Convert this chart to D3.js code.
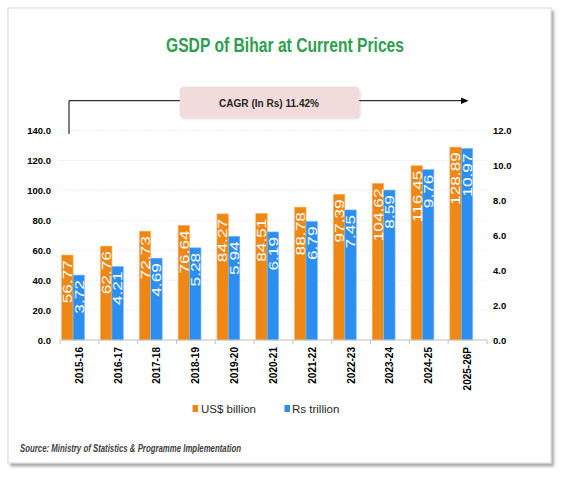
<!DOCTYPE html>
<html>
<head>
<meta charset="utf-8">
<script src="https://cdn.jsdelivr.net/npm/d3@7"></script>
<style>
  html, body { margin: 0; padding: 0; background: #fff; }
  svg { display: block; }
  text { font-family: "Liberation Sans", Arial, sans-serif; }
</style>
</head>
<body>
<svg id="chart" width="563" height="478"></svg>
<script>
// ---- data ----
const categories = ["2015-16","2016-17","2017-18","2018-19","2019-20","2020-21","2021-22","2022-23","2023-24","2024-25","2025-26P"];
const usdBillion = [56.77, 62.76, 72.73, 76.64, 84.27, 84.51, 88.78, 97.39, 104.62, 116.45, 128.89];
const rsTrillion = [3.72, 4.21, 4.69, 5.28, 5.94, 6.19, 6.79, 7.45, 8.59, 9.76, 10.97];
const leftTicks = [0, 20, 40, 60, 80, 100, 120, 140];
const rightTicks = [0, 2, 4, 6, 8, 10, 12];
const seriesNames = ["US$ billion", "Rs trillion"];
const titleText = "GSDP of Bihar at Current Prices";
const cagrText = "CAGR (In Rs) 11.42%";
const sourceText = "Source: Ministry of Statistics & Programme Implementation";

const ORANGE = "#ee8714", BLUE = "#2c8ff0";

const svg = d3.select("#chart");
const defs = svg.append("defs");
const sh = defs.append("filter").attr("id","cardShadow").attr("x","-5%").attr("y","-5%").attr("width","112%").attr("height","112%");
sh.append("feDropShadow").attr("dx",2.5).attr("dy",3).attr("stdDeviation",1.8).attr("flood-color","#000").attr("flood-opacity",0.35);
const sh2 = defs.append("filter").attr("id","boxShadow").attr("x","-10%").attr("y","-20%").attr("width","125%").attr("height","150%");
sh2.append("feDropShadow").attr("dx",1).attr("dy",1.5).attr("stdDeviation",1.2).attr("flood-color","#000").attr("flood-opacity",0.18);

// card
svg.append("rect").attr("x",8).attr("y",8).attr("width",543).attr("height",455)
  .attr("fill","#fff").attr("stroke","#d0d0d0").attr("stroke-width",0.8).attr("filter","url(#cardShadow)");

// title
svg.append("text").attr("x",285).attr("y",52).attr("text-anchor","middle")
  .attr("font-size",19.5).attr("font-weight","bold").attr("fill","#2f9e4f")
  .attr("textLength",238).attr("lengthAdjust","spacingAndGlyphs").text(titleText);

// scales
const x0 = d3.scaleBand().domain(categories).range([60, 487]).paddingInner(0).paddingOuter(0);
const x1 = d3.scaleBand().domain(["usd","rs","gap"]).range([0, x0.bandwidth()]).paddingInner(0).paddingOuter(0.2).align(0.37);
const yL = d3.scaleLinear().domain([0, 140]).range([340, 130.5]);
const yR = d3.scaleLinear().domain([0, 12]).range([340, 130.5]);

// gridlines
svg.append("g").selectAll("line").data(leftTicks.filter(d => d > 0)).join("line")
  .attr("x1",60).attr("x2",487).attr("y1",d => yL(d)).attr("y2",d => yL(d))
  .attr("stroke","#d9d9d9").attr("stroke-width",0.6).attr("stroke-dasharray","1.5,1.5");

// left axis
const gL = svg.append("g").attr("transform","translate(60,0)")
  .call(d3.axisLeft(yL).tickValues(leftTicks).tickFormat(d3.format(".1f")).tickSize(0).tickPadding(9));
gL.select(".domain").remove();
gL.selectAll("text").attr("font-size",9.5).attr("font-weight","bold").attr("fill","#000")
  .attr("font-family","Liberation Sans, Arial, sans-serif");

// right axis
const gR = svg.append("g").attr("transform","translate(487,0)")
  .call(d3.axisRight(yR).tickValues(rightTicks).tickFormat(d3.format(".1f")).tickSize(0).tickPadding(6));
gR.select(".domain").remove();
gR.selectAll("text").attr("font-size",9.5).attr("font-weight","bold").attr("fill","#000")
  .attr("font-family","Liberation Sans, Arial, sans-serif");

// bars
const rows = categories.map((c, i) => ({cat: c, usd: usdBillion[i], rs: rsTrillion[i]}));
const groups = svg.append("g").selectAll("g").data(rows).join("g")
  .attr("transform", d => `translate(${x0(d.cat)},0)`);
groups.append("rect").attr("x", x1("usd")).attr("width", x1.bandwidth())
  .attr("y", d => yL(d.usd)).attr("height", d => yL(0) - yL(d.usd))
  .attr("fill", ORANGE).attr("stroke","#f6b268").attr("stroke-width",0.6);
groups.append("rect").attr("x", x1("rs")).attr("width", x1.bandwidth())
  .attr("y", d => yR(d.rs)).attr("height", d => yR(0) - yR(d.rs))
  .attr("fill", BLUE).attr("stroke","#7fbaf5").attr("stroke-width",0.6);

// data labels (rotated, inside end)
const fmt = d3.format(".2f");
function label(sel, key, scale) {
  sel.append("text")
    .attr("transform", d => `translate(${x1(key) + x1.bandwidth()/2 + 4.8},${scale(d[key]) + 5}) rotate(-90) scale(1.28,1)`)
    .attr("text-anchor","end").attr("font-size",13.5).attr("fill","#fff")
    .text(d => fmt(d[key]));
}
label(groups, "usd", yL);
label(groups, "rs", yR);

// bottom axis
const gB = svg.append("g").attr("transform","translate(0,340)");
gB.append("line").attr("x1",60).attr("x2",487).attr("stroke","#bfbfbf").attr("stroke-width",1);
const boundaries = categories.map(c => x0(c)).concat([x0.range()[1]]);
gB.selectAll("line.tick").data(boundaries).join("line").attr("class","tick")
  .attr("x1",d => d).attr("x2",d => d).attr("y1",0).attr("y2",4).attr("stroke","#bfbfbf");
gB.selectAll("text").data(categories).join("text")
  .attr("transform", d => `translate(${x0(d) + x0.bandwidth()/2 + 3.4},7) rotate(-90)`)
  .attr("text-anchor","end").attr("font-size",10).attr("font-weight","bold").attr("fill","#000")
  .text(d => d);

// CAGR arrow
svg.append("path").attr("d","M69,134 V100.7 H462").attr("fill","none").attr("stroke","#000").attr("stroke-width",1);
svg.append("path").attr("d","M461,97.5 L468.5,100.7 L461,104 Z").attr("fill","#000");
svg.append("rect").attr("x",180).attr("y",87).attr("width",179).attr("height",30).attr("rx",4)
  .attr("fill","#f2dcdb").attr("stroke","#ead0cf").attr("stroke-width",0.5).attr("filter","url(#boxShadow)");
svg.append("text").attr("x",269).attr("y",107.3).attr("text-anchor","middle")
  .attr("font-size",11.6).attr("font-weight","bold").attr("fill","#262626")
  .attr("textLength",100).attr("lengthAdjust","spacingAndGlyphs").text(cagrText);

// legend
const legend = [
  {name: seriesNames[0], color: ORANGE, sx: 192.5, tx: 201},
  {name: seriesNames[1], color: BLUE, sx: 284.5, tx: 292}
];
const lg = svg.append("g").selectAll("g").data(legend).join("g");
lg.append("rect").attr("x", d => d.sx).attr("y",405).attr("width",5.5).attr("height",7).attr("fill", d => d.color);
lg.append("text").attr("x", d => d.tx).attr("y",412.5).attr("font-size",11.5).attr("fill","#262626").text(d => d.name);

// source
svg.append("text").attr("x",20).attr("y",451.5).attr("font-size",10).attr("font-weight","bold")
  .attr("font-style","italic").attr("fill","#404040")
  .attr("textLength",221).attr("lengthAdjust","spacingAndGlyphs").text(sourceText);
</script>
</body>
</html>
